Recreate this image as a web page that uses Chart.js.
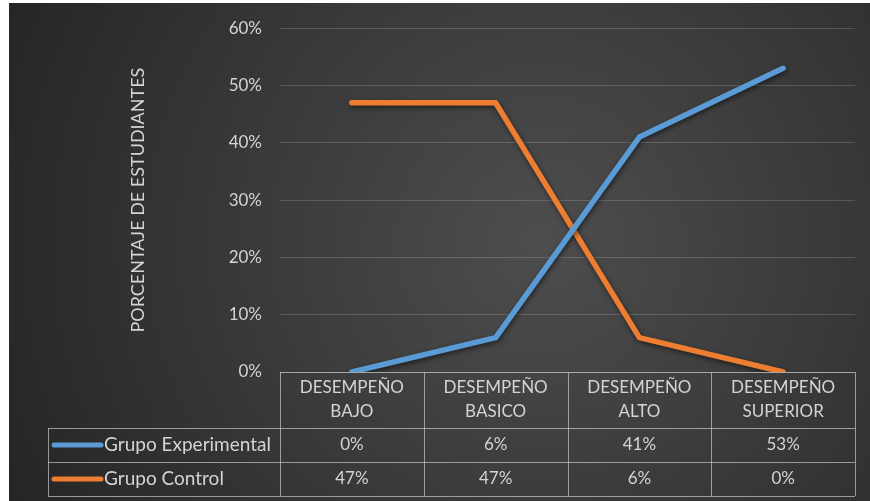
<!DOCTYPE html>
<html>
<head>
<meta charset="UTF-8">
<title>Desempeño</title>
<script src="https://cdn.jsdelivr.net/npm/chart.js"></script>
<style>
  body { margin: 0; background: #fff; }
  #wrap { width: 870px; height: 501px; }
</style>
</head>
<body>
<div id="wrap"><canvas id="myChart"></canvas></div>
<script>
  // data
  const categories = [['DESEMPEÑO', 'BAJO'], ['DESEMPEÑO', 'BASICO'], ['DESEMPEÑO', 'ALTO'], ['DESEMPEÑO', 'SUPERIOR']];
  const seriesNames = ['Grupo Experimental', 'Grupo Control'];
  const experimental = [0, 6, 41, 53];
  const control = [47, 47, 6, 0];
  const yTicks = [0, 10, 20, 30, 40, 50, 60];

  const textColor = '#d4d4d4';
  const fontName = 'Lato, "Open Sans", sans-serif';

  // dark office-style background
  const bgPlugin = {
    id: 'bg',
    beforeDraw(chart) {
      const c = chart.ctx;
      c.save();
      c.fillStyle = '#ffffff';
      c.fillRect(0, 0, chart.width, chart.height);
      const g = c.createRadialGradient(540, 240, 20, 540, 240, 620);
      g.addColorStop(0, '#4c4c4c');
      g.addColorStop(1, '#232323');
      c.fillStyle = g;
      c.fillRect(9, 3, chart.width - 9, chart.height - 3);
      c.restore();
    }
  };

  // soft shadow under the lines
  const shadowPlugin = {
    id: 'lineShadow',
    beforeDatasetDraw(chart) {
      const c = chart.ctx;
      c.save();
      c.shadowColor = 'rgba(0,0,0,0.55)';
      c.shadowBlur = 5;
      c.shadowOffsetX = 1;
      c.shadowOffsetY = 2;
    },
    afterDatasetDraw(chart) {
      chart.ctx.restore();
    }
  };

  // data table under the plot
  const tablePlugin = {
    id: 'dataTable',
    afterDraw(chart) {
      const c = chart.ctx;
      const x = chart.scales.x;
      const area = chart.chartArea;
      const n = categories.length;
      const half = (x.getPixelForValue(1) - x.getPixelForValue(0)) / 2;
      const left = 48;
      const top = area.bottom;
      const row0 = top + 56, row1 = row0 + 34, row2 = row1 + 34;
      const edges = [];
      for (let i = 0; i < n; i++) edges.push(x.getPixelForValue(i) - half);
      edges.push(x.getPixelForValue(n - 1) + half);

      c.save();
      c.strokeStyle = 'rgba(200,200,200,0.7)';
      c.lineWidth = 1;
      c.beginPath();
      c.moveTo(edges[0], top + 0.5); c.lineTo(edges[n], top + 0.5);
      [row0, row1, row2].forEach(y => { c.moveTo(left, y + 0.5); c.lineTo(edges[n], y + 0.5); });
      c.moveTo(left + 0.5, row0); c.lineTo(left + 0.5, row2);
      edges.forEach(e => { c.moveTo(Math.round(e) + 0.5, top); c.lineTo(Math.round(e) + 0.5, row2); });
      c.stroke();

      c.fillStyle = textColor;
      c.font = '17px ' + fontName;
      c.textAlign = 'center';
      c.textBaseline = 'middle';
      categories.forEach((lab, i) => {
        const cx = x.getPixelForValue(i);
        c.fillText(lab[0], cx, top + 16);
        c.fillText(lab[1], cx, top + 40);
        c.fillText(experimental[i] + '%', cx, (row0 + row1) / 2);
        c.fillText(control[i] + '%', cx, (row1 + row2) / 2);
      });

      c.font = '19px ' + fontName;
      const swatches = [chart.data.datasets[0].borderColor, chart.data.datasets[1].borderColor];
      [(row0 + row1) / 2, (row1 + row2) / 2].forEach((y, k) => {
        c.strokeStyle = swatches[k];
        c.lineWidth = 5;
        c.lineCap = 'round';
        c.beginPath();
        c.moveTo(54, y); c.lineTo(101, y);
        c.stroke();
        c.textAlign = 'left';
        c.fillText(seriesNames[k], 104, y);
      });
      c.restore();
    }
  };

  const config = {
    type: 'line',
    data: {
      labels: categories,
      datasets: [
        {
          label: seriesNames[0],
          data: experimental,
          borderColor: '#5b9bd5',
          borderWidth: 5.5,
          borderCapStyle: 'round',
          borderJoinStyle: 'round',
          pointRadius: 0,
          tension: 0
        },
        {
          label: seriesNames[1],
          data: control,
          borderColor: '#ed7d31',
          borderWidth: 5.5,
          borderCapStyle: 'round',
          borderJoinStyle: 'round',
          pointRadius: 0,
          tension: 0
        }
      ]
    },
    options: {
      responsive: true,
      maintainAspectRatio: false,
      animation: false,
      layout: { padding: { left: 123, right: 15, top: 28, bottom: 129 } },
      plugins: {
        legend: { display: false },
        tooltip: { enabled: false }
      },
      scales: {
        x: {
          type: 'category',
          display: false,
          offset: true
        },
        y: {
          min: yTicks[0],
          max: yTicks[yTicks.length - 1],
          afterBuildTicks: (scale) => { scale.ticks = yTicks.map(v => ({ value: v })); },
          afterFit: (scale) => { scale.width = 157; },
          grid: { color: 'rgba(255,255,255,0.16)', drawTicks: false },
          border: { display: false },
          ticks: {
            color: textColor,
            padding: 18,
            font: { family: fontName, size: 17 },
            callback: (v) => v + '%'
          },
          title: {
            display: true,
            text: 'PORCENTAJE DE ESTUDIANTES',
            color: textColor,
            font: { family: fontName, size: 18 }
          }
        }
      }
    },
    plugins: [bgPlugin, shadowPlugin, tablePlugin]
  };

  new Chart(document.getElementById('myChart'), config);
</script>
</body>
</html>
